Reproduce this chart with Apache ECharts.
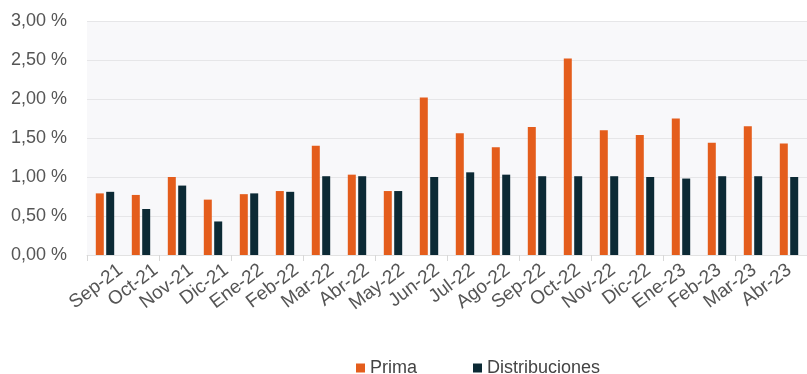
<!DOCTYPE html>
<html>
<head>
<meta charset="utf-8">
<script src="https://cdn.jsdelivr.net/npm/echarts@6/dist/echarts.min.js"></script>
<style>
html, body { margin: 0; padding: 0; background: #fff; }
#chart { width: 807px; height: 374px; }
</style>
</head>
<body>
<div id="chart"></div>
<script>
var months = ["Sep-21","Oct-21","Nov-21","Dic-21","Ene-22","Feb-22","Mar-22","Abr-22","May-22","Jun-22",
    "Jul-22","Ago-22","Sep-22","Oct-22","Nov-22","Dic-22","Ene-23","Feb-23","Mar-23","Abr-23"];
var prima = [0.79,0.77,1.00,0.71,0.78,0.82,1.40,1.03,0.82,2.02,
    1.56,1.38,1.64,2.52,1.60,1.54,1.75,1.44,1.65,1.43];
var distribuciones = [0.81,0.59,0.89,0.43,0.79,0.81,1.01,1.01,0.82,1.00,
    1.06,1.03,1.01,1.01,1.01,1.00,0.98,1.01,1.01,1.00];
var colors = ["#e45d1c", "#0c2a35"];

var myChart = echarts.init(document.getElementById("chart"));
myChart.setOption({
    animation: false,
    color: colors,
    textStyle: { fontFamily: "Liberation Sans, Arial, sans-serif" },
    grid: [{
        left: 87,
        top: 21,
        width: 728,
        height: 234,
        show: true,
        backgroundColor: "#f8f8fa",
        borderWidth: 0
    }, {
        // same plot, shifted right: carries only the month labels
        left: 103,
        top: 21,
        width: 728,
        height: 234,
        show: false
    }],
    legend: {
        left: 351,
        top: 354,
        itemWidth: 9,
        itemHeight: 9,
        itemGap: 56,
        icon: "rect",
        textStyle: { fontSize: 18, color: "#444" },
        data: ["Prima", "Distribuciones"]
    },
    xAxis: [{
        type: "category",
        data: months,
        axisLine: { show: true, lineStyle: { color: "#e2e2e2" } },
        axisTick: { show: true, length: 6, lineStyle: { color: "#d8d8d8" } },
        axisLabel: { show: false }
    }, {
        type: "category",
        gridIndex: 1,
        data: months,
        axisLine: { show: false },
        axisTick: { show: false },
        axisLabel: {
            rotate: 37,
            interval: 0,
            margin: 13,
            fontSize: 19,
            color: "#555"
        }
    }],
    yAxis: [{
        type: "value",
        min: 0,
        max: 3,
        interval: 0.5,
        axisLine: { show: false },
        axisTick: { show: false },
        splitLine: { lineStyle: { color: "#e6e6e8" } },
        axisLabel: {
            margin: 20,
            fontSize: 18,
            color: "#555",
            formatter: function (v) { return v.toFixed(2).replace(".", ",") + " %"; }
        }
    }, {
        type: "value",
        gridIndex: 1,
        min: 0,
        max: 3,
        show: false
    }],
    series: [
        {
            name: "Prima",
            type: "bar",
            barWidth: 8,
            barGap: "30%",
            data: prima
        },
        {
            name: "Distribuciones",
            type: "bar",
            barWidth: 8,
            data: distribuciones
        }
    ]
});
</script>
</body>
</html>
